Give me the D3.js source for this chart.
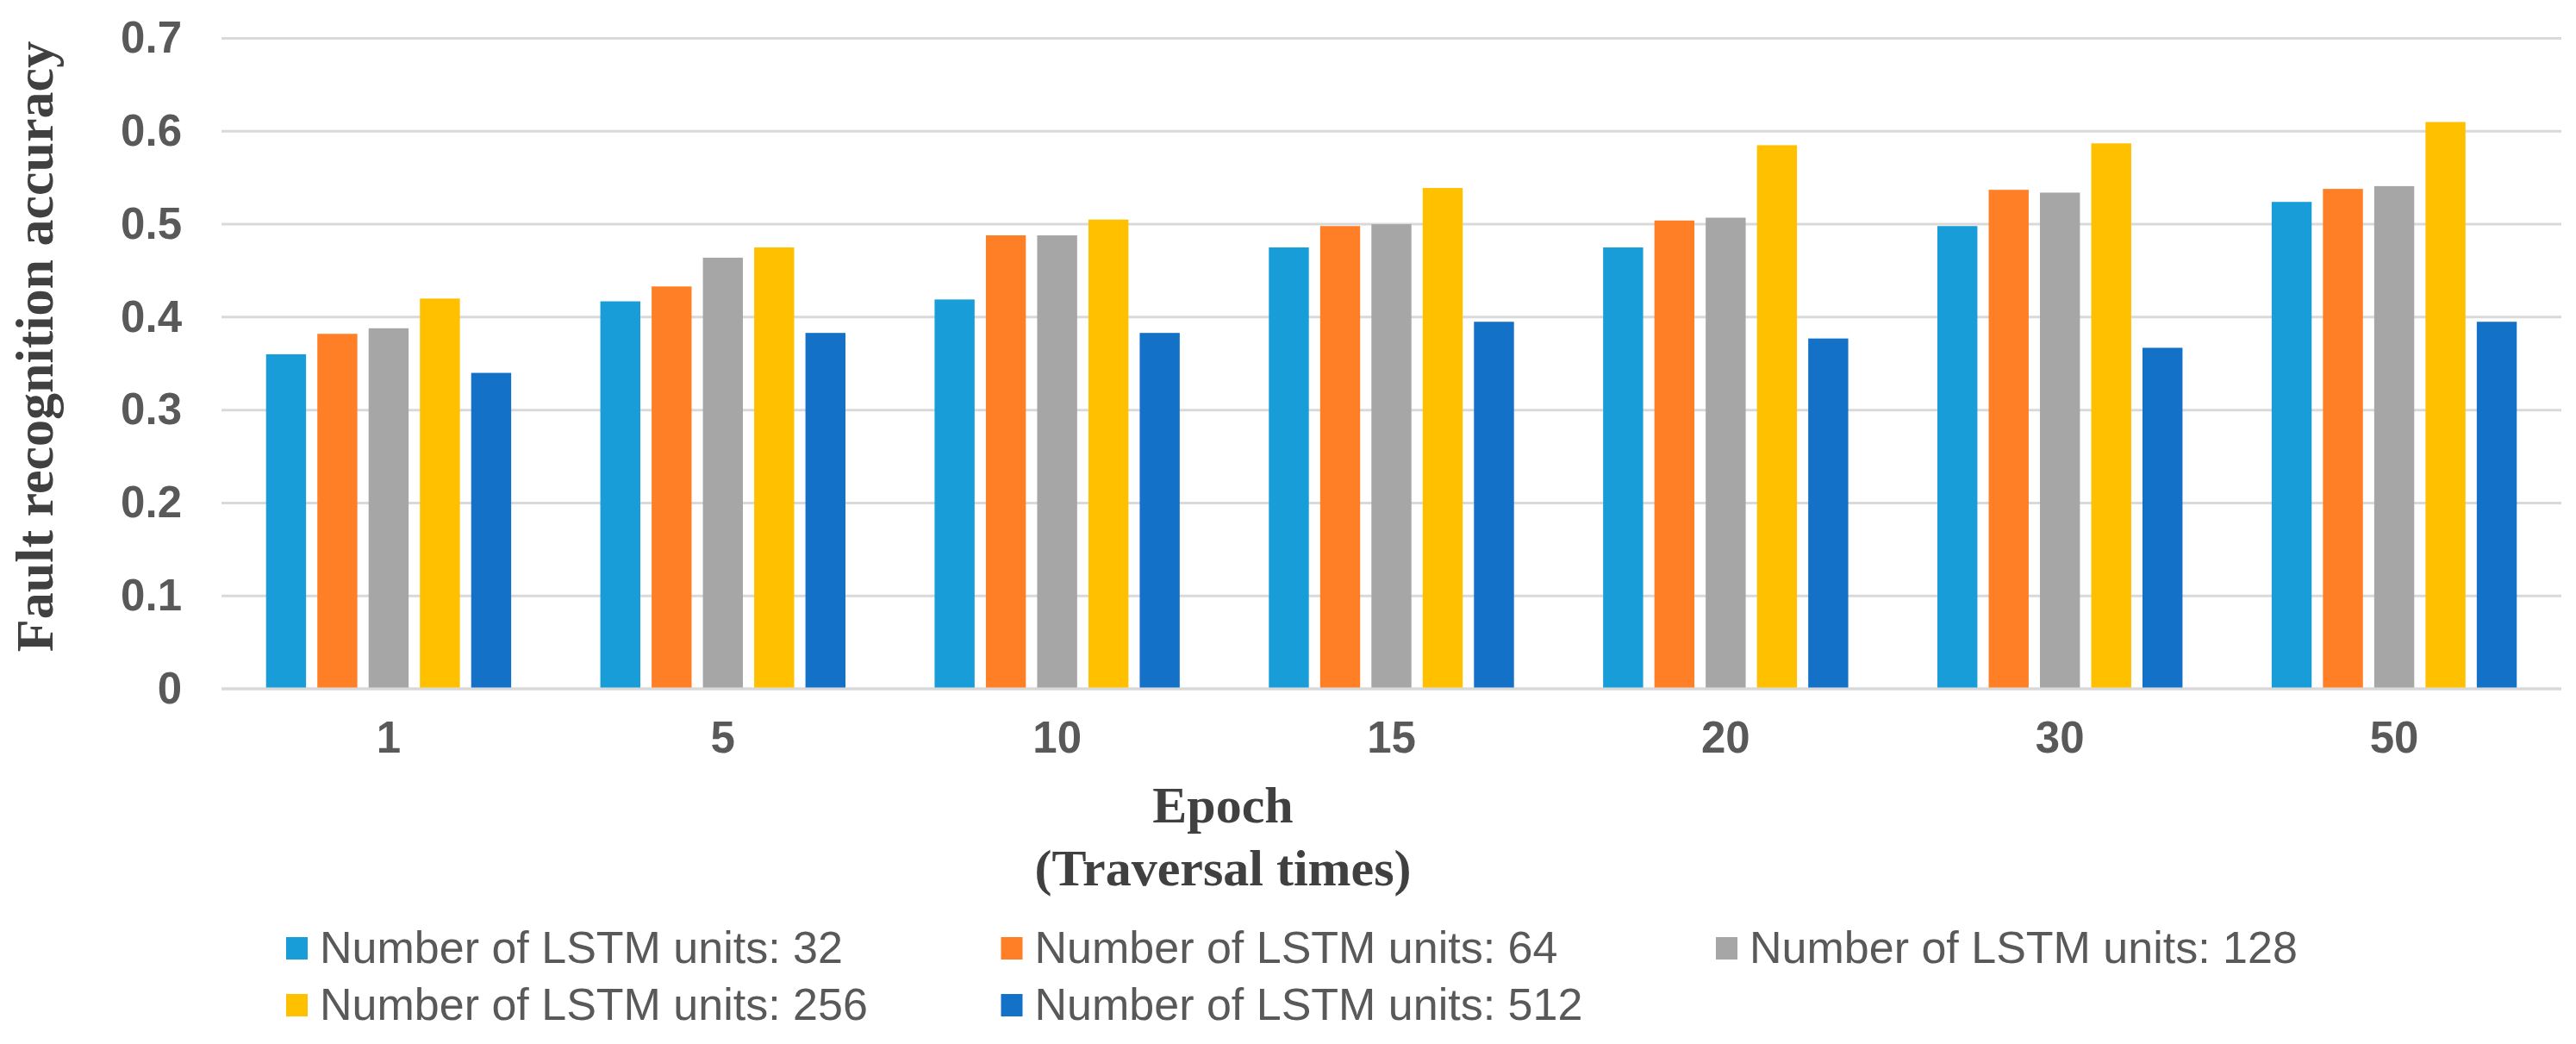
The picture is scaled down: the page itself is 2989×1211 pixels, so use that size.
<!DOCTYPE html>
<html>
<head>
<meta charset="utf-8">
<script src="https://cdn.jsdelivr.net/npm/d3@7/dist/d3.min.js"></script>
<style>
  body { margin: 0; background: #fff; }
</style>
</head>
<body>
<div id="my_dataviz"></div>
<script>
// data
var epochs = ["1", "5", "10", "15", "20", "30", "50"];
var seriesNames = ["Number of LSTM units: 32", "Number of LSTM units: 64", "Number of LSTM units: 128",
                   "Number of LSTM units: 256", "Number of LSTM units: 512"];
var units32  = [0.360, 0.417, 0.419, 0.475, 0.475, 0.498, 0.524];
var units64  = [0.382, 0.433, 0.488, 0.498, 0.504, 0.537, 0.538];
var units128 = [0.388, 0.464, 0.488, 0.500, 0.507, 0.534, 0.541];
var units256 = [0.420, 0.475, 0.505, 0.539, 0.585, 0.587, 0.610];
var units512 = [0.340, 0.383, 0.383, 0.395, 0.377, 0.367, 0.395];
var yTicks = [0, 0.1, 0.2, 0.3, 0.4, 0.5, 0.6, 0.7];

var seriesValues = [units32, units64, units128, units256, units512];
var colors = ["#199dd9", "#fe7f25", "#a6a6a6", "#ffc000", "#1372c8"];

// dimensions of the picture
var width = 2989, height = 1211;
var plot = {left: 257, right: 2972, top: 44.5, bottom: 799};

var svg = d3.select("#my_dataviz")
  .append("svg")
    .attr("width", width)
    .attr("height", height)
    .style("display", "block");

svg.append("rect").attr("width", width).attr("height", height).attr("fill", "#fff");

// scales
var y = d3.scaleLinear()
    .domain([0, 0.7])
    .range([plot.bottom, plot.top]);

var x0 = d3.scaleBand()
    .domain(epochs)
    .range([plot.left, plot.right]);

var x1 = d3.scaleBand()
    .domain(d3.range(seriesNames.length))
    .range([-148.75, 148.75])
    .paddingInner(0.22)
    .paddingOuter(0.11);

// gridlines
svg.append("g")
  .selectAll("line")
  .data(yTicks).enter()
  .append("line")
    .attr("x1", plot.left)
    .attr("x2", plot.right)
    .attr("y1", function(d) { return y(d); })
    .attr("y2", function(d) { return y(d); })
    .attr("stroke", "#d9d9d9")
    .attr("stroke-width", function(d) { return d == 0 ? 3.5 : 3; });

// y axis labels
var yAxis = svg.append("g")
    .attr("transform", "translate(" + (plot.left + 4) + ",0)")
    .call(d3.axisLeft(y).tickValues(yTicks).tickSize(0).tickPadding(50)
      .tickFormat(function(d) { return d == 0 ? "0" : d3.format(".1f")(d); }));
yAxis.select(".domain").remove();
yAxis.selectAll("text")
    .style("font-family", "'Liberation Sans', Arial, sans-serif")
    .style("font-size", "51px")
    .style("font-weight", "bold")
    .attr("fill", "#595959");

// x axis labels
var xAxis = svg.append("g")
    .attr("transform", "translate(0," + plot.bottom + ")")
    .call(d3.axisBottom(x0).tickSize(0).tickPadding(38));
xAxis.select(".domain").remove();
xAxis.selectAll("text")
    .style("font-family", "'Liberation Sans', Arial, sans-serif")
    .style("font-size", "51px")
    .style("font-weight", "bold")
    .attr("fill", "#595959");

// bars
var groups = svg.append("g")
  .selectAll("g")
  .data(epochs).enter()
  .append("g")
    .attr("transform", function(d) { return "translate(" + (x0(d) + x0.bandwidth() / 2) + ",0)"; });

groups.selectAll("rect")
  .data(function(d, i) { return seriesValues.map(function(s, k) { return {k: k, v: s[i]}; }); })
  .enter()
  .append("rect")
    .attr("x", function(d) { return x1(d.k); })
    .attr("width", x1.bandwidth())
    .attr("y", function(d) { return y(d.v); })
    .attr("height", function(d) { return y(0) - y(d.v) - 1.5; })
    .attr("fill", function(d) { return colors[d.k]; });

// axis titles
svg.append("text")
    .attr("transform", "translate(61,402) rotate(-90)")
    .attr("text-anchor", "middle")
    .style("font-family", "'Liberation Serif', 'Times New Roman', serif")
    .style("font-size", "62px")
    .style("font-weight", "bold")
    .attr("fill", "#404040")
    .text("Fault recognition accuracy");

svg.append("text")
    .attr("x", 1419)
    .attr("y", 954)
    .attr("text-anchor", "middle")
    .style("font-family", "'Liberation Serif', 'Times New Roman', serif")
    .style("font-size", "60px")
    .style("font-weight", "bold")
    .attr("fill", "#404040")
    .text("Epoch");

svg.append("text")
    .attr("x", 1419)
    .attr("y", 1027)
    .attr("text-anchor", "middle")
    .style("font-family", "'Liberation Serif', 'Times New Roman', serif")
    .style("font-size", "60px")
    .style("font-weight", "bold")
    .attr("fill", "#404040")
    .text("(Traversal times)");

// legend, 3 columns x 2 rows
var legend = svg.append("g")
  .selectAll("g")
  .data(seriesNames).enter()
  .append("g")
    .attr("transform", function(d, i) {
      return "translate(" + (332 + (i % 3) * 829.5) + "," + (1117 + Math.floor(i / 3) * 66) + ")";
    });

legend.append("rect")
    .attr("x", 0)
    .attr("y", -30)
    .attr("width", 25)
    .attr("height", 26)
    .attr("fill", function(d, i) { return colors[i]; });

legend.append("text")
    .attr("x", 39)
    .attr("y", 0)
    .style("font-family", "'Liberation Sans', Arial, sans-serif")
    .style("font-size", "52px")
    .attr("fill", "#595959")
    .text(function(d) { return d; });
</script>
</body>
</html>
